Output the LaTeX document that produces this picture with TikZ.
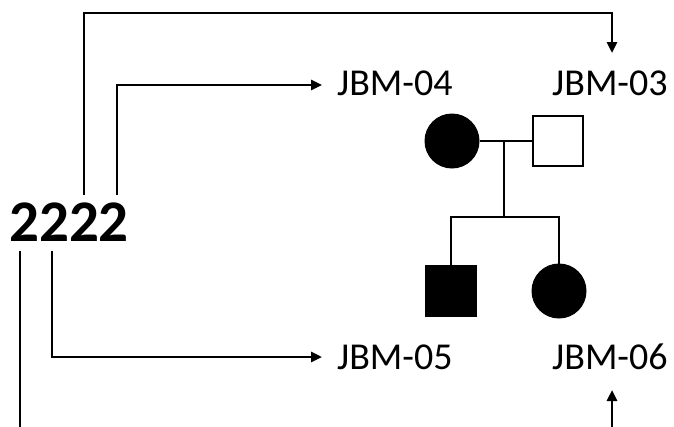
\documentclass[tikz,border=0pt]{standalone}
\usepackage{fontspec}
\setmainfont{Carlito}
\usetikzlibrary{arrows.meta}
\begin{document}
\begin{tikzpicture}[x=1pt,y=-1pt,
  ln/.style={line width=2.6pt},
  arr/.style={ln,-{Triangle[length=11pt,width=10pt]}},
  lbl/.style={inner sep=0pt,anchor=west,font=\fontsize{38}{40}\selectfont},
  big/.style={inner sep=0pt,font=\fontsize{59}{60}\selectfont\bfseries},
  fem/.style={circle,fill=black,draw=black,line width=1pt,minimum size=54pt,inner sep=0pt},
  mal/.style={rectangle,draw=black,line width=2.6pt,minimum size=50pt,inner sep=0pt}]
\useasboundingbox (0,0) rectangle (674,426);
\node[big] (n2222) at (69,222) {2222};
\node[lbl] (jbm04) at (337,83) {JBM-04};
\node[lbl] (jbm03) at (552,83) {JBM-03};
\node[lbl] (jbm05) at (337,357) {JBM-05};
\node[lbl] (jbm06) at (552,357) {JBM-06};
\node[fem] (f1) at (452,141) {};
\node[mal] (m1) at (558,141) {};
\node[mal,fill=black] (m2) at (451,291) {};
\node[fem] (f2) at (559,291) {};
\coordinate (mid) at (504,141);
\coordinate (sib) at (504,217);
\coordinate (b1) at (20,427);
\coordinate (b2) at (612,427);
% pedigree
\draw[ln] (f1.east) -- (m1.west);
\draw[ln] (mid) -- (sib);
\draw[ln] (m2.north) |- (sib) -| (f2.north);
% connectors from 2222
\draw[arr] (84,195) |- (612,13) -- (612,53);
\draw[arr] (117,195) |- (322,85);
\draw[arr] (52,251) |- (322,357);
\draw[ln] (20,251) -- (b1);
\draw[arr] (b2) -- (612,390);
\end{tikzpicture}
\end{document}
